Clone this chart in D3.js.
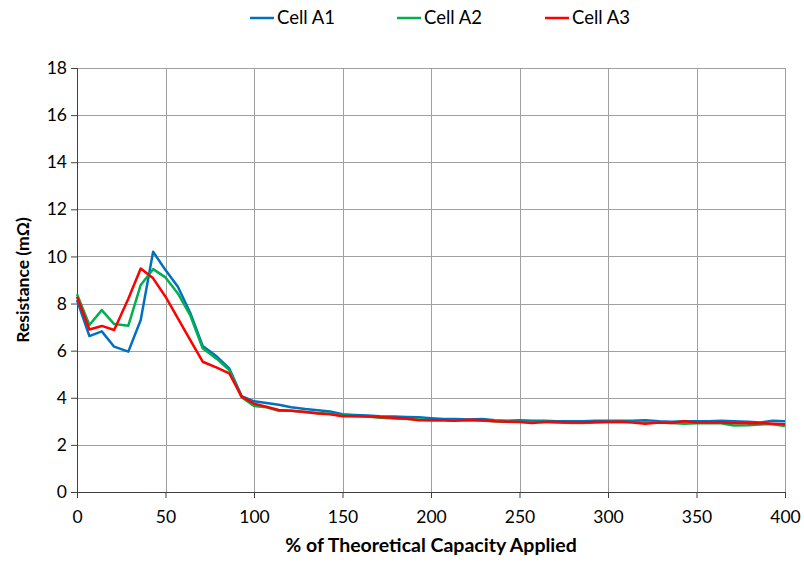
<!DOCTYPE html>
<html>
<head>
<meta charset="utf-8">
<script src="https://cdn.jsdelivr.net/npm/d3@7"></script>
<style>
  body { margin: 0; background: #fff; }
  svg { font-family: Lato, "Open Sans", sans-serif; }
</style>
</head>
<body>
<div id="chart"></div>
<script>
// % of theoretical capacity applied (x values)
const capacity = [0, 7, 14, 21, 29, 36, 43, 50, 57, 64, 71, 79, 86, 93, 100, 107, 114, 121, 129, 136,
  143, 150, 157, 164, 171, 179, 186, 193, 200, 207, 214, 221, 229, 236, 243, 250, 257, 264, 271, 279,
  286, 293, 300, 307, 314, 321, 329, 336, 343, 350, 357, 364, 371, 379, 386, 393, 400];

// resistance in mOhm per cell
const cellA1 = [8.15, 6.62, 6.82, 6.17, 5.96, 7.3, 10.2, 9.42, 8.71, 7.6, 6.2, 5.75, 5.25, 4.07,
  3.85, 3.78, 3.7, 3.6, 3.52, 3.47, 3.42, 3.3, 3.27, 3.25, 3.22, 3.2, 3.18, 3.17, 3.13, 3.1, 3.1,
  3.08, 3.1, 3.05, 3.02, 3.05, 3.02, 3.03, 3.0, 3.0, 3.0, 3.02, 3.02, 3.03, 3.03, 3.05, 3.0, 2.98,
  3.0, 3.0, 3.0, 3.02, 3.0, 2.98, 2.95, 3.02, 3.0];
const cellA2 = [8.4, 7.09, 7.72, 7.13, 7.06, 8.79, 9.46, 9.11, 8.43, 7.5, 6.1, 5.65, 5.18, 4.02,
  3.65, 3.6, 3.45, 3.45, 3.4, 3.35, 3.32, 3.25, 3.23, 3.2, 3.15, 3.12, 3.1, 3.08, 3.05, 3.05, 3.03,
  3.05, 3.03, 3.0, 2.98, 2.98, 2.97, 2.98, 2.95, 2.93, 2.93, 2.95, 2.97, 2.97, 2.97, 2.95, 2.95, 2.93,
  2.9, 2.92, 2.93, 2.92, 2.82, 2.83, 2.87, 2.88, 2.8];
const cellA3 = [8.29, 6.9, 7.05, 6.88, 8.2, 9.49, 9.07, 8.29, 7.37, 6.45, 5.53, 5.28, 5.04, 4.05,
  3.75, 3.62, 3.48, 3.45, 3.4, 3.33, 3.3, 3.22, 3.22, 3.2, 3.18, 3.15, 3.12, 3.05, 3.05, 3.05, 3.03,
  3.07, 3.05, 3.0, 2.98, 2.97, 2.93, 2.97, 2.97, 2.95, 2.95, 2.97, 2.97, 2.98, 2.95, 2.9, 2.95, 2.93,
  3.0, 2.95, 2.95, 2.95, 2.93, 2.92, 2.93, 2.9, 2.88];

const seriesNames = ['Cell A1', 'Cell A2', 'Cell A3'];
const seriesColors = ['#0070C0', '#00B050', '#FF0000'];
const xTicks = [0, 50, 100, 150, 200, 250, 300, 350, 400];
const yTicks = [0, 2, 4, 6, 8, 10, 12, 14, 16, 18];

const width = 804, height = 562;
const margin = { top: 68, right: 19, bottom: 70, left: 77 };

const svg = d3.select('#chart').append('svg')
  .attr('width', width)
  .attr('height', height);

const x = d3.scaleLinear().domain([0, 400]).range([margin.left, width - margin.right]);
const y = d3.scaleLinear().domain([0, 18]).range([height - margin.bottom, margin.top]);

// grid lines
const grid = svg.append('g').attr('stroke', '#a0a0a0').attr('stroke-width', 1);
grid.selectAll('line.h')
  .data(yTicks.slice(1))
  .join('line')
  .attr('x1', x(0)).attr('x2', x(400))
  .attr('y1', d => Math.round(y(d)) + 0.5).attr('y2', d => Math.round(y(d)) + 0.5);
grid.selectAll('line.v')
  .data(xTicks.slice(1))
  .join('line')
  .attr('y1', y(0)).attr('y2', y(18))
  .attr('x1', d => Math.round(x(d)) + 0.5).attr('x2', d => Math.round(x(d)) + 0.5);

// axes
const xAxis = svg.append('g')
  .attr('transform', `translate(0,${y(0)})`)
  .call(d3.axisBottom(x).tickValues(xTicks).tickSize(6).tickPadding(13));
const yAxis = svg.append('g')
  .attr('transform', `translate(${x(0)},0)`)
  .call(d3.axisLeft(y).tickValues(yTicks).tickSize(6).tickPadding(4));

[xAxis, yAxis].forEach(a => {
  a.select('.domain').attr('stroke', '#404040');
  a.selectAll('.tick line').attr('stroke', '#404040');
  a.selectAll('.tick text')
    .attr('fill', '#000')
    .style('font-size', '17.5px')
    .style('font-family', 'Lato, "Open Sans", sans-serif');
});

// series lines
const allSeries = [cellA1, cellA2, cellA3];
const line = d3.line()
  .x((d, i) => x(capacity[i]))
  .y(d => y(d));

svg.append('g')
  .selectAll('path')
  .data(allSeries)
  .join('path')
  .attr('fill', 'none')
  .attr('stroke', (d, i) => seriesColors[i])
  .attr('stroke-width', 2.5)
  .attr('stroke-linejoin', 'round')
  .attr('d', line);

// legend
const legendX = [250, 397, 545];
const legend = svg.append('g')
  .selectAll('g')
  .data(seriesNames)
  .join('g')
  .attr('transform', (d, i) => `translate(${legendX[i]},18)`);
legend.append('line')
  .attr('x1', 0).attr('x2', 24)
  .attr('stroke', (d, i) => seriesColors[i])
  .attr('stroke-width', 2.5);
legend.append('text')
  .attr('x', 27)
  .attr('dy', '0.35em')
  .style('font-size', '18.5px')
  .text(d => d);

// axis titles
svg.append('text')
  .attr('x', (x(0) + x(400)) / 2)
  .attr('y', 552)
  .attr('text-anchor', 'middle')
  .style('font-size', '19.5px')
  .style('font-weight', 'bold')
  .text('% of Theoretical Capacity Applied');

svg.append('text')
  .attr('transform', `translate(23,${(y(0) + y(18)) / 2}) rotate(-90)`)
  .attr('text-anchor', 'middle')
  .attr('dy', '0.35em')
  .style('font-size', '17.5px')
  .style('font-weight', 'bold')
  .text('Resistance (mΩ)');
</script>
</body>
</html>
